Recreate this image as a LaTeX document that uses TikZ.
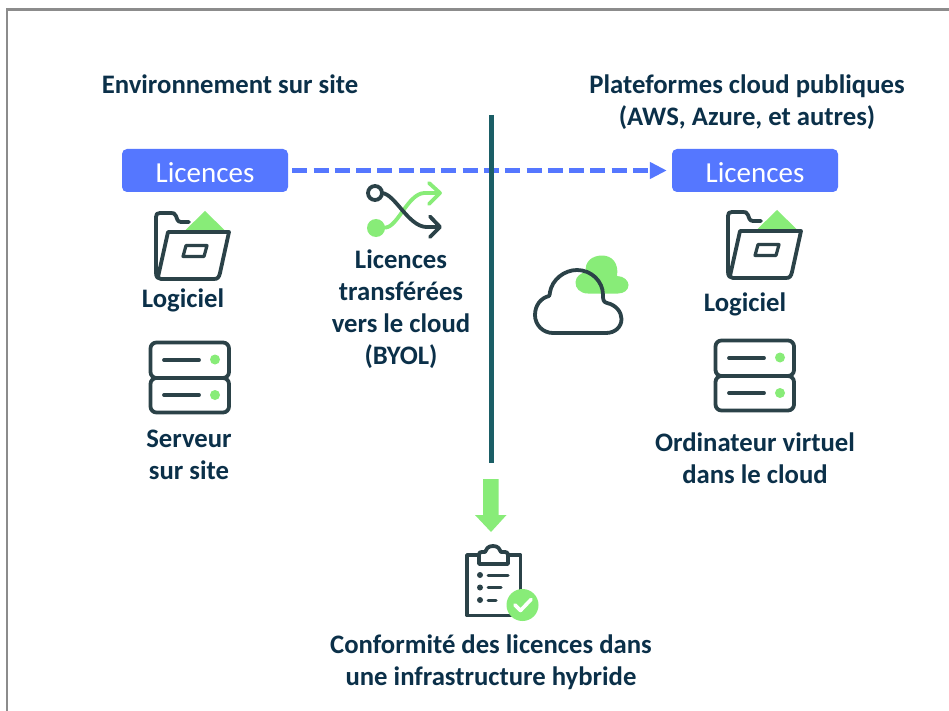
\documentclass[tikz,border=0pt]{standalone}
\usepackage{fontspec}
\setmainfont{Carlito}
\usetikzlibrary{arrows.meta}
\definecolor{navy}{HTML}{0B3049}
\definecolor{slate}{HTML}{2B4248}
\definecolor{leaf}{HTML}{88EC78}
\definecolor{azure}{HTML}{5577FF}
\definecolor{teal2}{HTML}{1B5E66}
\definecolor{frame}{HTML}{8C8C8C}
\tikzset{
  x=1pt,y=-1pt,
  lab/.style={font=\fontsize{26.7}{32}\selectfont\bfseries,text=navy,align=center,inner sep=0pt},
  lic/.style={fill=azure,rounded corners=5pt,minimum width=166pt,minimum height=43pt,inner sep=0pt,text=white,font=\fontsize{29}{32}\selectfont,text height=23.5pt,text depth=0pt},
  ico/.style={draw=slate,line width=3.8pt,line cap=round,line join=round},
  pics/folder/.style={code={
    \fill[leaf] (184,231.5)--(205,211)--(226,231.5)--cycle;
    \draw[ico] (189,222)--(181,222) .. controls (177,222) and (177,218) .. (176,216) .. controls (175,213) and (173,213) .. (171,213)--(160,213) .. controls (157,213) and (156,214) .. (156,217)--(156,273) .. controls (156,277) and (158,279) .. (161,279)--(214,279) .. controls (218,279) and (219,277) .. (220,273)--(229,232)--(168,232)--(158,277);
    \draw[ico,line width=3.2pt] (186,245.5)--(207,245.5)--(204,256.5)--(183,256.5)--cycle;
  }},
  pics/server/.style={code={
    \draw[ico,rounded corners=6pt] (150.5,342.5) rectangle (229,378);
    \draw[ico,rounded corners=6pt] (150.5,378) rectangle (229,412.5);
    \draw[ico] (164,360)--(199,360) (164,395)--(199,395);
    \fill[leaf] (215,359.5) circle (5) (215,395) circle (5);
  }}
}
\begin{document}
\begin{tikzpicture}
\useasboundingbox (0,0) rectangle (949,711);
\fill[white] (0,0) rectangle (949,711);
\draw[frame,line width=2.6pt] (7,711)--(7,9.5)--(949,9.5);

\node[lab] (envt) at (230,84) {Environnement sur site};
\node[lab] (plat) at (747,102.5) {Plateformes cloud publiques\\(AWS, Azure, et autres)};

\node[lic] (licA) at (205,170.5) {Licences};
\node[lic] (licB) at (755,170.5) {Licences};
\draw[azure,line width=5.2pt,dash pattern=on 15pt off 6.3pt,-{Triangle[length=17pt,width=16pt]}] (licA.east)++(4,0) -- ([xshift=-5pt]licB.west);

\coordinate (vtop) at (491,115);
\coordinate (vbot) at (491,463);
\draw[teal2,line width=5pt] (vtop)--(vbot);

\pic at (0,0) {folder};
\pic at (572,-1) {folder};
\pic at (0,0) {server};
\pic at (565,-2) {server};

\node[lab] (logA) at (183,300) {Logiciel};
\node[lab] (logB) at (745,304) {Logiciel};
\node[lab] (srv) at (189,455) {Serveur\\sur site};
\node[lab] (vm) at (755,458) {Ordinateur virtuel\\dans le cloud};
\node[lab] (byol) at (401,309) {Licences\\transférées\\vers le cloud\\(BYOL)};
\node[lab] (conf) at (491,662) {Conformité des licences dans\\une infrastructure hybride};

% shuffle icon
\draw[leaf,line width=3.8pt,line cap=round,line join=round] (376,228)--(386,227.5) .. controls (398,226) and (408,194) .. (424,193)--(439,193) (429,183)--(440,193)--(429,204);
\fill[leaf] (376,228) circle (9);
\draw[ico] (375,193) circle (7);
\draw[ico] (382,193) .. controls (395,194) and (408,226) .. (426,227)--(439,227) (430,216.5)--(440,227)--(430,237);

% cloud icon
\fill[leaf] (586,272) .. controls (584,262) and (592,255.5) .. (602,255.5) .. controls (612,255.5) and (619,263) .. (617,276) .. controls (624,276) and (628.5,281) .. (628.5,285) .. controls (628.5,290) and (624,293.5) .. (618,293.5)--(588,293.5) .. controls (580,293.5) and (575,288) .. (575.5,282) .. controls (576,276) and (581,273) .. (586,272)--cycle;
\draw[ico] (550,292) .. controls (552,280) and (564,270) .. (577,270) .. controls (591,270) and (603,281) .. (603,295) .. controls (603,299) and (603,302) .. (607,303) .. controls (616,305) and (621.5,312) .. (621.5,319) .. controls (621.5,327) and (615,333) .. (606,333)--(553,333) .. controls (543,333) and (535,325) .. (535,315) .. controls (535,305) and (541,298) .. (549,296) .. controls (549.5,295) and (550,294) .. (550,292)--cycle;

% downward block arrow
\fill[leaf] (483,479)--(498.5,479)--(498.5,515)--(506.5,515)--(491,532)--(475,515)--(483,515)--cycle;

% clipboard icon
\draw[ico] (478,555)--(467,555)--(467,615.5)--(512,615.5) (520.5,595)--(520.5,555)--(508,555);
\draw[ico] (479,564)--(479,554.5) .. controls (479,552.5) and (480,552) .. (482,552)--(485,552) .. controls (486,549) and (488,546) .. (493,546) .. controls (498,546) and (500,549) .. (501,552)--(505,552) .. controls (507,552) and (508,553) .. (508,555)--(508,564)--cycle;
\fill[slate] (480,575) circle (3) (480,587.5) circle (3) (480,600) circle (3);
\draw[ico,line width=3pt] (488,575)--(508,575) (488,587.5)--(501,587.5) (488,600)--(496,600);
\fill[leaf] (522.5,605) circle (16);
\draw[white,line width=3.6pt,line cap=round,line join=round] (515,605)--(520.5,610.5)--(531,599.5);
\end{tikzpicture}
\end{document}
